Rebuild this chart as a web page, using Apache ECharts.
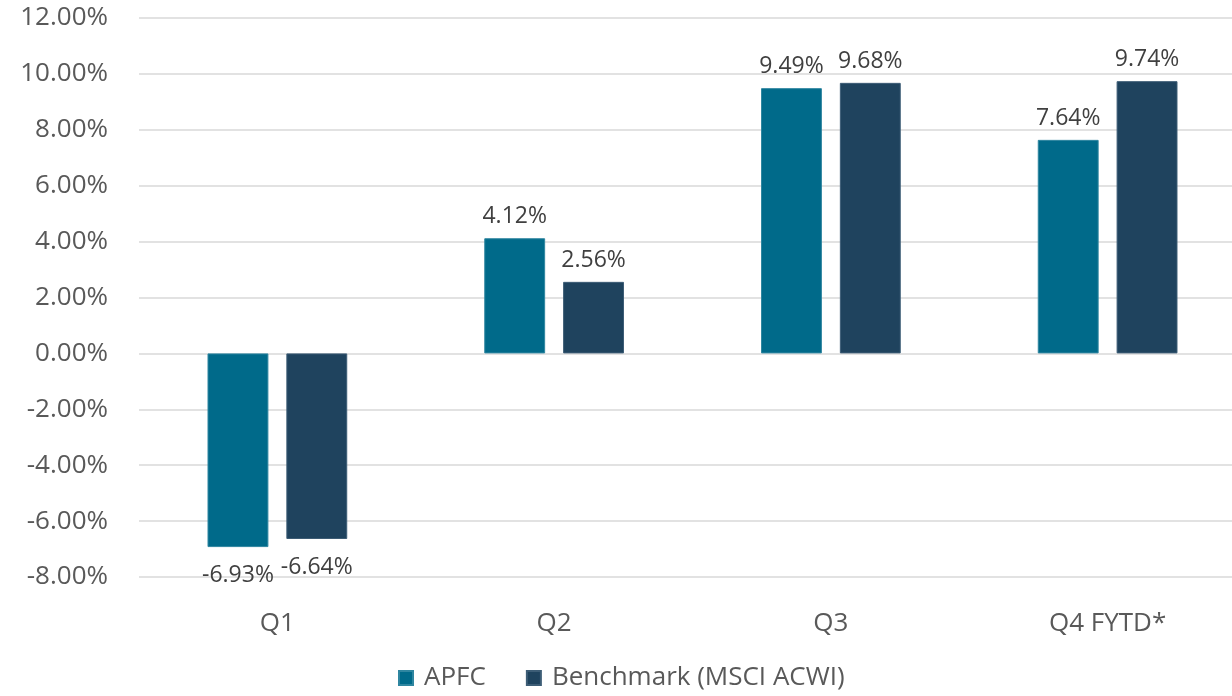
<!DOCTYPE html>
<html>
<head>
<meta charset="utf-8">
<script src="https://cdn.jsdelivr.net/npm/echarts@6/dist/echarts.min.js"></script>
<style>
  html, body { margin: 0; padding: 0; background: #ffffff; }
  #chart { width: 1232px; height: 696px; }
</style>
</head>
<body>
<div id="chart"></div>
<script>
// Quarterly returns, fund vs. benchmark (percent)
const categories = ['Q1', 'Q2', 'Q3', 'Q4 FYTD*'];
const apfcReturns = [-6.93, 4.12, 9.49, 7.64];
const benchmarkReturns = [-6.64, 2.56, 9.68, 9.74];
const seriesNames = ['APFC', 'Benchmark (MSCI ACWI)'];
const yMin = -8, yMax = 12, yStep = 2;

const FONT = '"Open Sans", "Noto Sans", sans-serif';

// Labels sit above positive bars and below negative ones
function withLabels(values) {
  return values.map(v => ({
    value: v,
    label: { position: v < 0 ? 'bottom' : 'top', distance: v < 0 ? 17 : 10 }
  }));
}

const chart = echarts.init(document.getElementById('chart'), null, { renderer: 'canvas' });

const barLabel = {
  show: true,
  fontFamily: FONT, fontSize: 23, color: '#404040',
  formatter: p => p.value.toFixed(2) + '%'
};

chart.setOption({
  animation: false,
  textStyle: { fontFamily: FONT },
  // plot band runs slightly past the right edge so the last group sits where it should
  grid: {
    left: 139, width: 1107, top: 18, bottom: 119,
    containLabel: false, outerBoundsMode: 'none'
  },
  legend: {
    bottom: 0,
    left: 393,
    itemWidth: 14,
    itemHeight: 14,
    itemGap: 40,
    icon: 'rect',
    textStyle: { fontFamily: FONT, fontSize: 26, color: '#595959', padding: [0, 0, 0, 6] },
    data: seriesNames
  },
  xAxis: {
    type: 'category',
    data: categories,
    axisLine: { show: false },
    axisTick: { show: false },
    axisLabel: {
      fontFamily: FONT, fontSize: 26, color: '#595959', margin: 34
    }
  },
  yAxis: {
    type: 'value',
    min: yMin, max: yMax, interval: yStep,
    axisLine: { show: false },
    axisTick: { show: false },
    splitLine: { lineStyle: { color: '#d9d9d9', width: 1.5 } },
    axisLabel: {
      fontFamily: FONT, fontSize: 26, color: '#595959', margin: 31,
      formatter: v => v.toFixed(2) + '%'
    }
  },
  series: [
    {
      name: seriesNames[0],
      type: 'bar',
      data: withLabels(apfcReturns),
      barWidth: '22%',
      barGap: '29.5%',
      itemStyle: { color: '#006a8a', borderColor: '#2f86a0', borderWidth: 1 },
      label: barLabel
    },
    {
      name: seriesNames[1],
      type: 'bar',
      data: withLabels(benchmarkReturns),
      barWidth: '22%',
      barGap: '29.5%',
      itemStyle: { color: '#1f435e', borderColor: '#3d5d76', borderWidth: 1 },
      label: barLabel
    }
  ]
});
</script>
</body>
</html>
